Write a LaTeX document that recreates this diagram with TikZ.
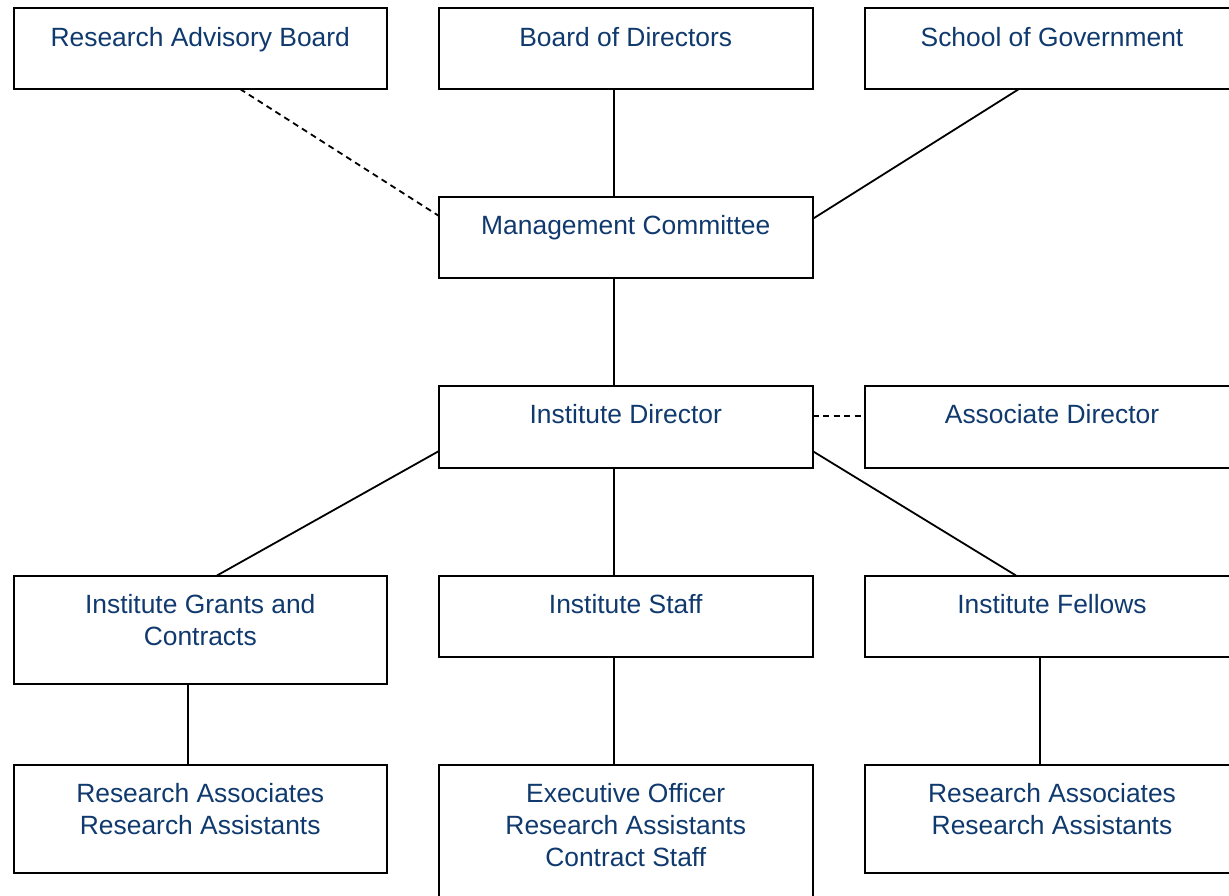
\documentclass[tikz,border=0pt]{standalone}
\usepackage{fontspec}
\setmainfont{Liberation Sans}
\usetikzlibrary{calc}
\definecolor{txtblue}{RGB}{16,58,110}
\begin{document}
\begin{tikzpicture}[x=1pt,y=-1pt,
  orgbox/.style={draw=black, line width=2pt, fill=white, rectangle, inner sep=0pt, outer sep=0pt, minimum width=373.5pt},
  lbl/.style={anchor=base, inner sep=0pt, outer sep=0pt, text=txtblue, font=\fontsize{26.4}{32}\selectfont},
  link/.style={draw=black, line width=1.8pt},
  dlink/.style={link, dash pattern=on 6pt off 4.5pt}]
\useasboundingbox (0,0) rectangle (1229,895);
\clip (0,0) rectangle (1229,895);
\fill[white] (0,0) rectangle (1229,895);
\renewcommand{\arraystretch}{1}
\setlength{\tabcolsep}{0pt}
% boxes
\node[orgbox, minimum height=81pt] (rab) at (200.25,48.5) {};
\node[orgbox, minimum height=81pt] (bod) at (625.75,48.5) {};
\node[orgbox, minimum height=81pt] (sog) at (1052,48.5) {};
\node[orgbox, minimum height=81pt] (mc) at (625.75,237.5) {};
\node[orgbox, minimum height=81.5pt] (id) at (625.75,426.75) {};
\node[orgbox, minimum height=81.5pt] (ad) at (1052,426.75) {};
\node[orgbox, minimum height=108.5pt] (grants) at (200.25,629.75) {};
\node[orgbox, minimum height=81.5pt] (staff) at (625.75,616.25) {};
\node[orgbox, minimum height=81.5pt] (fel) at (1052,616.25) {};
\node[orgbox, minimum height=108pt] (ra1) at (200.25,819) {};
\node[orgbox, minimum height=165pt] (exec) at (625.75,847.5) {};
\node[orgbox, minimum height=108pt] (ra2) at (1052,819) {};
% labels
\node[lbl] (rabt) at (200.25,46) {\begin{tabular}[t]{c}Research Advisory Board\end{tabular}};
\node[lbl] (bodt) at (625.75,46) {\begin{tabular}[t]{c}Board of Directors\end{tabular}};
\node[lbl] (sogt) at (1052,46) {\begin{tabular}[t]{c}School of Government\end{tabular}};
\node[lbl] (mct) at (625.75,234) {\begin{tabular}[t]{c}Management Committee\end{tabular}};
\node[lbl] (idt) at (625.75,423) {\begin{tabular}[t]{c}Institute Director\end{tabular}};
\node[lbl] (adt) at (1052,423) {\begin{tabular}[t]{c}Associate Director\end{tabular}};
\node[lbl] (grantst) at (200.25,613) {\begin{tabular}[t]{c}Institute Grants and\\Contracts\end{tabular}};
\node[lbl] (stafft) at (625.75,613) {\begin{tabular}[t]{c}Institute Staff\end{tabular}};
\node[lbl] (felt) at (1052,613) {\begin{tabular}[t]{c}Institute Fellows\end{tabular}};
\node[lbl] (ra1t) at (200.25,802) {\begin{tabular}[t]{c}Research Associates\\Research Assistants\end{tabular}};
\node[lbl] (exect) at (625.75,802) {\begin{tabular}[t]{c}Executive Officer\\Research Assistants\\Contract Staff\end{tabular}};
\node[lbl] (ra2t) at (1052,802) {\begin{tabular}[t]{c}Research Associates\\Research Assistants\end{tabular}};
% connectors
\draw[dlink] ([xshift=39.75pt]rab.south) -- ([yshift=21.5pt]mc.west);
\draw[link] ([xshift=-12pt]bod.south) -- ([xshift=-12pt]mc.north);
\draw[link] ([xshift=-33pt]sog.south) -- ([yshift=18.5pt]mc.east);
\draw[link] ([xshift=-12pt]mc.south) -- ([xshift=-12pt]id.north);
\draw[dlink] ([yshift=10.75pt]id.east) -- ([yshift=10.75pt]ad.west);
\draw[link] ([yshift=-24.25pt]id.west) -- ([xshift=16.75pt]grants.north);
\draw[link] ([xshift=-12pt]id.south) -- ([xshift=-12pt]staff.north);
\draw[link] ([yshift=-24.25pt]id.east) -- ([xshift=-36pt]fel.north);
\draw[link] ([xshift=-12pt]grants.south) -- ([xshift=-12pt]ra1.north);
\draw[link] ([xshift=-12pt]staff.south) -- ([xshift=-12pt]exec.north);
\draw[link] ([xshift=-12pt]fel.south) -- ([xshift=-12pt]ra2.north);
\end{tikzpicture}
\end{document}
